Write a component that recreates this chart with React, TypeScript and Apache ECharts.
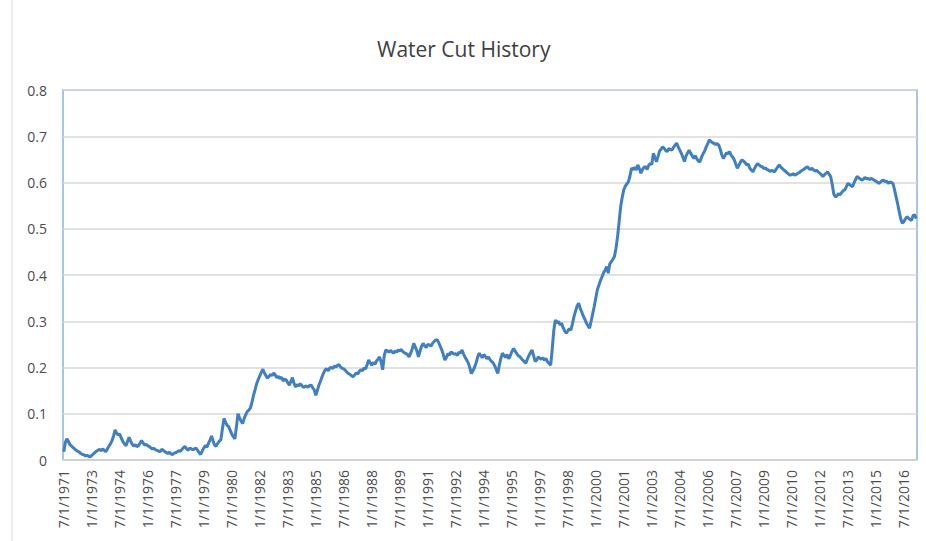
import React, { useEffect, useRef } from "react";
import * as echarts from "echarts";

// Monthly water cut, one row per year, starting July 1971 (Jul..Jun).
const waterCut: number[] = [
  0.018, 0.038, 0.046, 0.040, 0.033, 0.030, 0.027, 0.024, 0.021, 0.019, 0.017, 0.014,
  0.012, 0.011, 0.009, 0.010, 0.008, 0.007, 0.010, 0.013, 0.016, 0.019, 0.021, 0.023,
  0.020, 0.024, 0.021, 0.018, 0.024, 0.030, 0.035, 0.042, 0.052, 0.065, 0.058, 0.054,
  0.056, 0.047, 0.040, 0.035, 0.031, 0.040, 0.049, 0.041, 0.034, 0.030, 0.033, 0.029,
  0.031, 0.036, 0.042, 0.037, 0.032, 0.034, 0.031, 0.029, 0.026, 0.024, 0.025, 0.022,
  0.021, 0.019, 0.018, 0.023, 0.021, 0.018, 0.016, 0.014, 0.017, 0.013, 0.012, 0.015,
  0.016, 0.018, 0.020, 0.019, 0.023, 0.027, 0.029, 0.024, 0.021, 0.026, 0.024, 0.022,
  0.024, 0.026, 0.021, 0.016, 0.012, 0.019, 0.026, 0.031, 0.028, 0.036, 0.043, 0.052,
  0.041, 0.032, 0.030, 0.036, 0.041, 0.044, 0.068, 0.090, 0.082, 0.075, 0.072, 0.064,
  0.056, 0.050, 0.046, 0.072, 0.100, 0.091, 0.084, 0.079, 0.090, 0.098, 0.105, 0.108,
  0.113, 0.125, 0.140, 0.152, 0.165, 0.174, 0.182, 0.190, 0.196, 0.188, 0.182, 0.177,
  0.181, 0.185, 0.183, 0.188, 0.184, 0.178, 0.181, 0.176, 0.179, 0.171, 0.175, 0.173,
  0.167, 0.162, 0.170, 0.178, 0.166, 0.158, 0.163, 0.160, 0.165, 0.161, 0.157, 0.159,
  0.160, 0.157, 0.161, 0.162, 0.156, 0.152, 0.140, 0.150, 0.162, 0.170, 0.180, 0.188,
  0.195, 0.197, 0.193, 0.199, 0.200, 0.198, 0.203, 0.201, 0.205, 0.206, 0.201, 0.198,
  0.197, 0.194, 0.190, 0.187, 0.185, 0.182, 0.180, 0.184, 0.188, 0.186, 0.192, 0.195,
  0.193, 0.199, 0.197, 0.206, 0.216, 0.210, 0.205, 0.211, 0.207, 0.214, 0.218, 0.223,
  0.212, 0.195, 0.225, 0.238, 0.236, 0.233, 0.237, 0.234, 0.231, 0.236, 0.233, 0.238,
  0.236, 0.239, 0.234, 0.232, 0.230, 0.228, 0.223, 0.231, 0.240, 0.252, 0.244, 0.236,
  0.223, 0.235, 0.246, 0.252, 0.247, 0.243, 0.250, 0.249, 0.246, 0.252, 0.256, 0.259,
  0.260, 0.254, 0.246, 0.238, 0.228, 0.216, 0.222, 0.230, 0.227, 0.234, 0.231, 0.229,
  0.230, 0.226, 0.233, 0.231, 0.238, 0.229, 0.222, 0.216, 0.210, 0.200, 0.187, 0.193,
  0.200, 0.209, 0.222, 0.231, 0.226, 0.221, 0.228, 0.224, 0.219, 0.223, 0.217, 0.213,
  0.210, 0.204, 0.196, 0.187, 0.205, 0.220, 0.231, 0.226, 0.222, 0.228, 0.219, 0.225,
  0.234, 0.241, 0.237, 0.231, 0.226, 0.224, 0.220, 0.216, 0.213, 0.209, 0.218, 0.226,
  0.232, 0.238, 0.226, 0.213, 0.216, 0.223, 0.220, 0.218, 0.221, 0.216, 0.219, 0.212,
  0.209, 0.205, 0.240, 0.280, 0.303, 0.296, 0.300, 0.292, 0.296, 0.286, 0.279, 0.274,
  0.279, 0.284, 0.281, 0.295, 0.310, 0.322, 0.333, 0.339, 0.328, 0.320, 0.311, 0.304,
  0.296, 0.290, 0.285, 0.300, 0.316, 0.332, 0.350, 0.368, 0.378, 0.388, 0.396, 0.405,
  0.410, 0.418, 0.404, 0.424, 0.429, 0.434, 0.440, 0.458, 0.483, 0.515, 0.548, 0.568,
  0.584, 0.592, 0.597, 0.602, 0.614, 0.631, 0.628, 0.633, 0.627, 0.638, 0.630, 0.620,
  0.628, 0.633, 0.634, 0.628, 0.637, 0.641, 0.639, 0.663, 0.655, 0.645, 0.656, 0.668,
  0.672, 0.677, 0.674, 0.669, 0.667, 0.674, 0.671, 0.670, 0.676, 0.681, 0.685, 0.677,
  0.670, 0.663, 0.655, 0.645, 0.657, 0.664, 0.670, 0.663, 0.658, 0.652, 0.658, 0.651,
  0.646, 0.645, 0.655, 0.662, 0.668, 0.677, 0.684, 0.692, 0.689, 0.686, 0.685, 0.682,
  0.684, 0.681, 0.672, 0.660, 0.652, 0.658, 0.664, 0.662, 0.667, 0.659, 0.655, 0.649,
  0.640, 0.631, 0.637, 0.644, 0.649, 0.646, 0.643, 0.638, 0.640, 0.631, 0.627, 0.623,
  0.630, 0.636, 0.641, 0.638, 0.635, 0.634, 0.630, 0.632, 0.628, 0.627, 0.624, 0.626,
  0.625, 0.623, 0.629, 0.634, 0.638, 0.633, 0.630, 0.627, 0.624, 0.621, 0.618, 0.616,
  0.617, 0.619, 0.616, 0.618, 0.620, 0.622, 0.625, 0.627, 0.629, 0.632, 0.634, 0.630,
  0.628, 0.631, 0.627, 0.625, 0.626, 0.623, 0.620, 0.617, 0.613, 0.617, 0.620, 0.623,
  0.618, 0.613, 0.596, 0.575, 0.569, 0.571, 0.576, 0.573, 0.578, 0.582, 0.584, 0.590,
  0.598, 0.596, 0.593, 0.591, 0.599, 0.606, 0.613, 0.610, 0.608, 0.605, 0.607, 0.611,
  0.608, 0.609, 0.606, 0.609, 0.607, 0.605, 0.603, 0.601, 0.598, 0.601, 0.604, 0.605,
  0.602, 0.603, 0.598, 0.601, 0.600, 0.598, 0.585, 0.570, 0.555, 0.538, 0.522, 0.512,
  0.515, 0.521, 0.526, 0.523, 0.520, 0.518, 0.529, 0.530, 0.522,
];

// First month of the record and the spacing of the date labels.
const startYear = 1971;
const startMonth = 7;
const labelEveryMonths = 18;

// Y axis scale.
const yMin = 0;
const yMax = 0.8;
const yStep = 0.1;

// One M/D/YYYY label per monthly sample.
const dates: string[] = waterCut.map((_, i) => {
  const m0 = startMonth - 1 + i;
  const y = startYear + Math.floor(m0 / 12);
  const m = (m0 % 12) + 1;
  return `${m}/1/${y}`;
});

const FONT = "'Open Sans', 'Liberation Sans', sans-serif";

export default function App() {
  const ref = useRef<HTMLDivElement>(null);

  useEffect(() => {
    if (!ref.current) return;
    const chart = echarts.init(ref.current, null, { renderer: "svg" });
    chart.setOption({
      animation: false,
      backgroundColor: "#ffffff",
      title: {
        text: "Water Cut History",
        left: 372,
        top: 33,
        textStyle: {
          fontFamily: FONT,
          fontSize: 21,
          fontWeight: "normal",
          color: "#404040",
        },
      },
      graphic: [
        {
          type: "line",
          shape: { x1: 12, y1: 0, x2: 12, y2: 541 },
          style: { stroke: "#d9d9d9", lineWidth: 1 },
          silent: true,
        },
      ],
      grid: {
        left: 63,
        right: 9,
        top: 90,
        bottom: 81,
        show: true,
        borderColor: "#8fb2d9",
        borderWidth: 1.5,
        backgroundColor: "transparent",
      },
      xAxis: {
        type: "category",
        data: dates,
        boundaryGap: true,
        axisLine: { show: true, lineStyle: { color: "#d0d0d0", width: 2 } },
        axisTick: { show: false },
        axisLabel: {
          interval: labelEveryMonths - 1,
          rotate: 90,
          margin: 10,
          fontFamily: FONT,
          fontSize: 14,
          color: "#4d4d4d",
        },
        splitLine: { show: false },
      },
      yAxis: {
        type: "value",
        min: yMin,
        max: yMax,
        interval: yStep,
        axisLine: { show: false },
        axisTick: { show: false },
        axisLabel: {
          margin: 16,
          fontFamily: FONT,
          fontSize: 14,
          color: "#4d4d4d",
          formatter: (v: number) => String(Math.round(v * 10) / 10),
        },
        splitLine: { show: true, lineStyle: { color: "#d9d9d9", width: 1.5 } },
      },
      series: [
        {
          type: "line",
          data: waterCut,
          showSymbol: false,
          smooth: false,
          lineStyle: { color: "#3f7fc4", width: 3 },
          itemStyle: { color: "#3f7fc4" },
        },
      ],
    });
    return () => chart.dispose();
  }, []);

  return (
    <div
      ref={ref}
      style={{ position: "fixed", left: 0, top: 0, width: 926, height: 541 }}
    />
  );
}
